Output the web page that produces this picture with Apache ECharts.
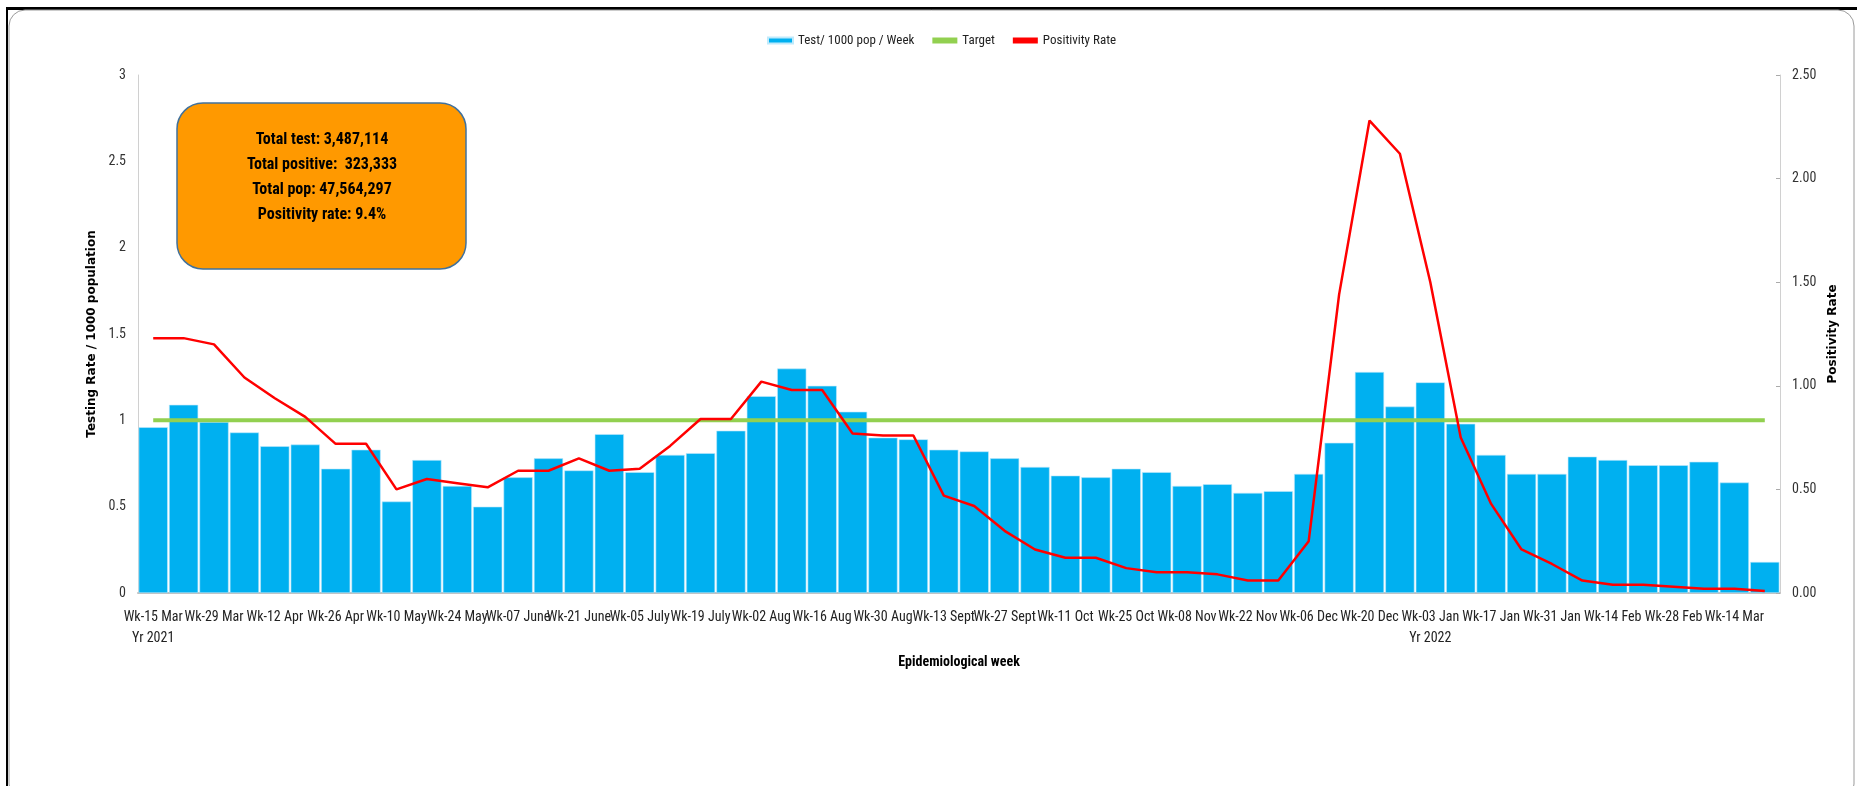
<!DOCTYPE html>
<html><head><meta charset="utf-8">
<script src="https://cdn.jsdelivr.net/npm/echarts@6/dist/echarts.min.js"></script>
<style>html,body{margin:0;padding:0;background:#fff}#c{width:1857px;height:786px}</style>
</head><body><div id="c"></div>
<script>
const weeks = ["Wk-15 Mar\nYr 2021","Wk-22 Mar","Wk-29 Mar","Wk-05 Apr","Wk-12 Apr","Wk-19 Apr","Wk-26 Apr","Wk-03 May","Wk-10 May","Wk-17 May","Wk-24 May","Wk-31 May","Wk-07 June","Wk-14 June","Wk-21 June","Wk-28 June","Wk-05 July","Wk-12 July","Wk-19 July","Wk-26 July","Wk-02 Aug","Wk-09 Aug","Wk-16 Aug","Wk-23 Aug","Wk-30 Aug","Wk-06 Sept","Wk-13 Sept","Wk-20 Sept","Wk-27 Sept","Wk-04 Oct","Wk-11 Oct","Wk-18 Oct","Wk-25 Oct","Wk-01 Nov","Wk-08 Nov","Wk-15 Nov","Wk-22 Nov","Wk-29 Nov","Wk-06 Dec","Wk-13 Dec","Wk-20 Dec","Wk-27 Dec","Wk-03 Jan\nYr 2022","Wk-10 Jan","Wk-17 Jan","Wk-24 Jan","Wk-31 Jan","Wk-07 Feb","Wk-14 Feb","Wk-21 Feb","Wk-28 Feb","Wk-07 Mar","Wk-14 Mar","Wk-21 Mar"];
const testsPer1000 = [0.96,1.09,0.99,0.93,0.85,0.86,0.72,0.83,0.53,0.77,0.62,0.50,0.67,0.78,0.71,0.92,0.70,0.80,0.81,0.94,1.14,1.30,1.20,1.05,0.90,0.89,0.83,0.82,0.78,0.73,0.68,0.67,0.72,0.70,0.62,0.63,0.58,0.59,0.69,0.87,1.28,1.08,1.22,0.98,0.80,0.69,0.69,0.79,0.77,0.74,0.74,0.76,0.64,0.18];
const target = [1,1,1,1,1,1,1,1,1,1,1,1,1,1,1,1,1,1,1,1,1,1,1,1,1,1,1,1,1,1,1,1,1,1,1,1,1,1,1,1,1,1,1,1,1,1,1,1,1,1,1,1,1,1];
const positivity = [1.23,1.23,1.20,1.04,0.94,0.85,0.72,0.72,0.50,0.55,0.53,0.51,0.59,0.59,0.65,0.59,0.60,0.71,0.84,0.84,1.02,0.98,0.98,0.77,0.76,0.76,0.47,0.42,0.30,0.21,0.17,0.17,0.12,0.10,0.10,0.09,0.06,0.06,0.25,1.44,2.28,2.12,1.50,0.75,0.43,0.21,0.14,0.06,0.04,0.04,0.03,0.02,0.02,0.01];
const leftTicks = {min:0,max:3,interval:0.5};
const rightTicks = {min:0,max:2.5,interval:0.5};
const summaryLines = ["Total test: 3,487,114","Total positive:  323,333","Total pop: 47,564,297","Positivity rate: 9.4%"];

const NF = "'Roboto Condensed','Liberation Sans Narrow',sans-serif";
const chart = echarts.init(document.getElementById('c'), null, {renderer:'canvas'});
chart.setOption({
  animation:false,
  backgroundColor:'#fff',
  textStyle:{fontFamily:NF},
  legend:{
    top:29, left:762, itemWidth:25, itemHeight:6, itemGap:18,
    textStyle:{fontFamily:NF,fontSize:13,color:'#222'},
    data:[{name:'Test/ 1000 pop / Week',icon:'rect'},{name:'Target',icon:'rect'},{name:'Positivity Rate',icon:'rect'}]
  },
  grid:{left:138,right:77,top:75,bottom:193,containLabel:false},
  xAxis:{
    type:'category', data:weeks, boundaryGap:true,
    name:'Epidemiological week', nameLocation:'middle', nameGap:62,
    nameTextStyle:{fontFamily:NF,fontWeight:'bold',fontSize:14,color:'#000'},
    axisLine:{lineStyle:{color:'#c0c0c0',width:2}},
    axisTick:{show:false},
    axisLabel:{interval:0,showMinLabel:true,showMaxLabel:true,hideOverlap:false,color:'#222',fontSize:14,fontFamily:NF,margin:14,lineHeight:21,
      formatter:(v,i)=> i%2===0 ? v : ''}
  },
  yAxis:[{
    type:'value', min:leftTicks.min, max:leftTicks.max, interval:leftTicks.interval,
    name:'Testing Rate / 1000 population', nameLocation:'middle', nameGap:34, nameRotate:90,
    nameTextStyle:{fontFamily:'DejaVu Sans',fontWeight:'bold',fontSize:12,color:'#000'},
    axisLine:{show:true,lineStyle:{color:'#d0d0d0',width:1}},
    axisTick:{show:false}, splitLine:{show:false},
    axisLabel:{color:'#333',fontSize:14,fontFamily:NF,margin:12}
  },{
    type:'value', min:rightTicks.min, max:rightTicks.max, interval:rightTicks.interval, position:'right',
    name:'Positivity Rate', nameLocation:'middle', nameGap:46, nameRotate:90,
    nameTextStyle:{fontFamily:'DejaVu Sans',fontWeight:'bold',fontSize:12,color:'#000'},
    axisLine:{show:true,lineStyle:{color:'#d0d0d0',width:1}},
    axisTick:{show:true,inside:true,length:4,lineStyle:{color:'#aaa'}}, splitLine:{show:false},
    axisLabel:{color:'#333',fontSize:14,fontFamily:NF,margin:12,formatter:v=>v.toFixed(2)}
  }],
  series:[
    {name:'Test/ 1000 pop / Week',type:'bar',data:testsPer1000,yAxisIndex:0,barCategoryGap:'4%',
     itemStyle:{color:'#00B0F0',borderColor:'#bfeafb',borderWidth:0.6},z:1},
    {name:'Target',type:'line',data:target,yAxisIndex:0,symbol:'none',
     lineStyle:{color:'#92D050',width:4},itemStyle:{color:'#92D050'},z:3},
    {name:'Positivity Rate',type:'line',data:positivity,yAxisIndex:1,symbol:'none',
     lineStyle:{color:'#FF0000',width:2.5},itemStyle:{color:'#FF0000'},z:4}
  ],
  graphic:[
    {type:'rect',shape:{x:7,y:7,width:1857,height:3},style:{fill:'#000'},silent:true},
    {type:'rect',shape:{x:6,y:7,width:2,height:786},style:{fill:'#000'},silent:true},
    {type:'rect',shape:{x:9,y:10,width:1845,height:790,r:16},style:{fill:'none',stroke:'#9a9a9a',lineWidth:1},silent:true},
    {type:'rect',shape:{x:177,y:103,width:289,height:166,r:26},style:{fill:'#FF9900',stroke:'#41719C',lineWidth:1.5},z:10,silent:true},
    {type:'text',left:322-160,top:127,z:11,silent:true,
     style:{text:summaryLines.join('\n'),width:320,align:'center',textAlign:'center',x:160,
       font:"bold 16px "+NF,fill:'#000',lineHeight:25}}
  ]
});
</script></body></html>
